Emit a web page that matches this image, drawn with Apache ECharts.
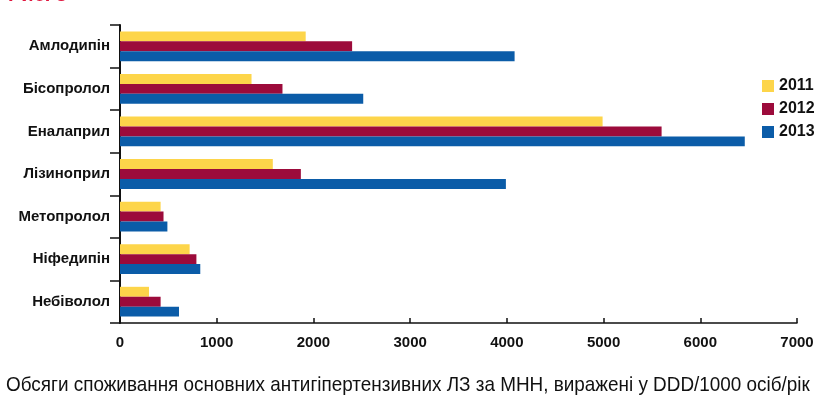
<!DOCTYPE html>
<html>
<head>
<meta charset="utf-8">
<script src="https://cdn.jsdelivr.net/npm/echarts@6/dist/echarts.min.js"></script>
<style>html,body{margin:0;padding:0;background:#fff;}#c{width:822px;height:407px;}</style>
</head>
<body>
<div id="c"></div>
<script>
const categories = ['Амлодипін', 'Бісопролол', 'Еналаприл', 'Лізиноприл', 'Метопролол', 'Ніфедипін', 'Небіволол'];
const years = ['2011', '2012', '2013'];
const values2011 = [1920, 1360, 4990, 1580, 420, 720, 300];
const values2012 = [2400, 1680, 5600, 1870, 450, 790, 420];
const values2013 = [4080, 2515, 6460, 3990, 490, 830, 610];
const xTicks = [0, 1000, 2000, 3000, 4000, 5000, 6000, 7000];
const colors = ['#fdd54a', '#9c0b3b', '#0b5ca8'];
const axisTitle = 'Обсяги споживання основних антигіпертензивних ЛЗ за МНН, виражені у DDD/1000 осіб/рік';

const chart = echarts.init(document.getElementById('c'));
const seriesData = [values2011, values2012, values2013];
chart.setOption({
  animation: false,
  textStyle: { fontFamily: 'Liberation Sans, Arial, sans-serif' },
  grid: { left: 120, right: 25, top: 25, bottom: 84 },
  legend: {
    orient: 'vertical', left: 757, top: 73, itemWidth: 12, itemHeight: 12, itemGap: 7,
    icon: 'rect', data: years,
    textStyle: { fontSize: 16, fontWeight: 'bold', color: '#111' }
  },
  xAxis: {
    type: 'value', min: xTicks[0], max: xTicks[xTicks.length - 1], interval: 1000,
    splitLine: { show: false },
    axisLine: { show: true, lineStyle: { color: '#111', width: 1.5 } },
    axisTick: { show: true, inside: true, length: 5, lineStyle: { color: '#111', width: 1.5 } },
    axisLabel: { fontSize: 15, fontWeight: 'bold', color: '#111', margin: 12, formatter: v => String(v) }
  },
  yAxis: {
    type: 'category', data: categories, inverse: true,
    axisLine: { show: true, lineStyle: { color: '#111', width: 2 } },
    axisTick: { show: true, length: 10, lineStyle: { color: '#111', width: 1.5 } },
    axisLabel: { fontSize: 15, fontWeight: 'bold', color: '#111', margin: 10 }
  },
  graphic: [
    { type: 'text', left: 8, top: -15, style: { text: 'Рис. 3', fontSize: 20, fontWeight: 'bold', fill: '#e0173f', fontFamily: 'Liberation Sans, Arial, sans-serif' } },
    { type: 'text', x: 6, y: 375, scaleX: 0.9, style: { text: axisTitle, fontSize: 21, fill: '#111', fontFamily: 'Liberation Sans, Arial, sans-serif' } }
  ],
  series: years.map((y, i) => ({
    name: y, type: 'bar', data: seriesData[i], barGap: '0%', barCategoryGap: '30%',
    itemStyle: { color: colors[i] }
  }))
});
</script>
</body>
</html>
